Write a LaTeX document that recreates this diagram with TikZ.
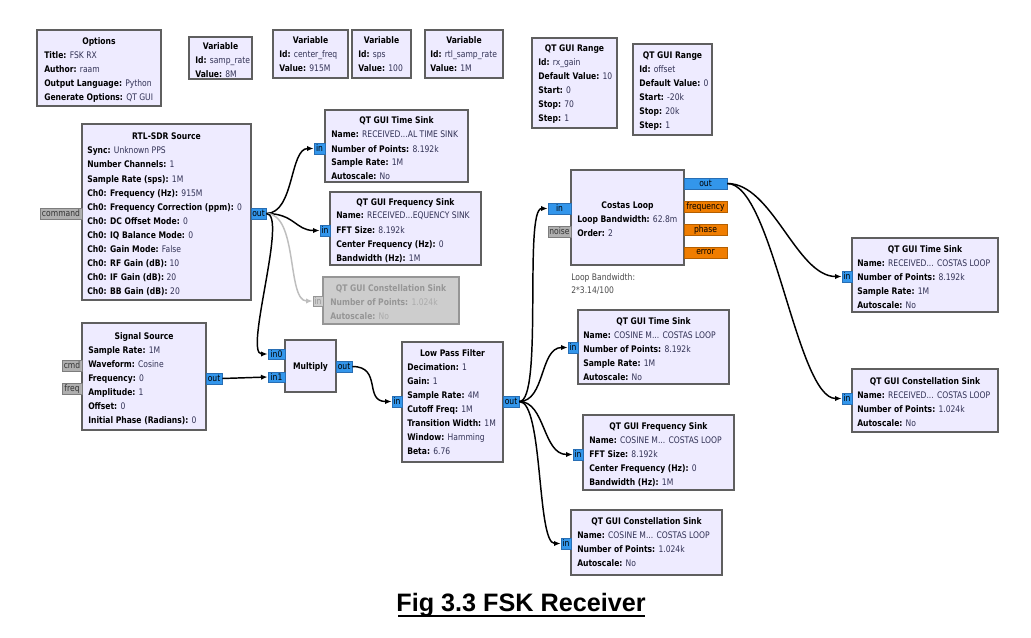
\documentclass[tikz,border=0pt]{standalone}
\usepackage{fontspec}
\setmainfont{DejaVu Sans}[FakeStretch=0.84]
\newfontfamily\capfont{Liberation Sans}
\usetikzlibrary{arrows.meta}
\definecolor{blkfill}{RGB}{238,235,255}
\definecolor{blkborder}{RGB}{95,95,95}
\definecolor{valc}{RGB}{50,50,85}
\definecolor{portblue}{RGB}{51,150,235}
\definecolor{portblueb}{RGB}{40,110,180}
\definecolor{portorange}{RGB}{240,125,0}
\definecolor{portorangeb}{RGB}{180,95,0}
\definecolor{portgray}{RGB}{175,175,175}
\definecolor{portgrayb}{RGB}{125,125,125}
\definecolor{disfill}{RGB}{205,205,205}
\definecolor{disborder}{RGB}{150,150,150}
\definecolor{distext}{RGB}{150,150,150}
\definecolor{dislink}{RGB}{190,190,190}
\newcommand\bfont{\fontsize{6.8pt}{8pt}\selectfont}
\newcommand\eli{...}
\tikzset{
  blockbox/.style={draw=blkborder, fill=blkfill, line width=0.9pt, inner sep=0pt},
  disbox/.style={draw=disborder, fill=disfill, line width=0.9pt, inner sep=0pt},
  portbase/.style={inner sep=0pt, font=\bfont, line width=0.5pt},
  pblue/.style={portbase, fill=portblue, draw=portblueb, text=black},
  porange/.style={portbase, fill=portorange, draw=portorangeb, text=black},
  pgray/.style={portbase, fill=portgray, draw=portgrayb, text=black!80},
  pdis/.style={portbase, fill=disfill, draw=disborder, text=distext},
  ttl/.style={font=\bfont\bfseries, anchor=base, inner sep=0pt},
  conn/.style={line width=1.1pt, -{Latex[length=5pt,width=4pt]}},
  disconn/.style={conn, draw=dislink, color=dislink},
}
\newcommand\blk[6][blockbox]{\node[#1, minimum width={(#5-#3)*0.75pt}, minimum height={(#6-#4)*0.75pt}] (#2) at ({(#3+#5)/2},{(#4+#6)/2}) {};}
\newcommand\prt[7]{\node[#1, minimum width={(#5-#3)*0.75pt}, minimum height={(#6-#4)*0.75pt}] (#2) at ({(#3+#5)/2},{(#4+#6)/2}) {#7};}
\newcommand\lns[4]{\foreach \k/\v [count=\i] in {#4} {\node[anchor=base west, inner sep=0pt, font=\bfont] (#1-\i) at (#2, {#3+(\i-1)*14}) {\textbf{\k:} \textcolor{valc}{\v}};}}
\begin{document}
\begin{tikzpicture}[x=0.75pt, y=-0.75pt]
\useasboundingbox[fill=white] (0,0) rectangle (1031,638);

% Options and variables
\blk{opt}{37}{30}{161}{106}
\node[ttl] (opt-t) at (99,45) {Options};
\lns{opt}{44}{59}{Title/FSK RX, Author/raam, Output Language/Python, Generate Options/QT GUI}

\blk{vsr}{189}{37}{252}{79}
\node[ttl] (vsr-t) at (220.5,50) {Variable};
\lns{vsr}{195}{64}{Id/samp\_rate, Value/8M}

\blk{vcf}{273}{30}{348}{78}
\node[ttl] (vcf-t) at (310.5,44) {Variable};
\lns{vcf}{279}{58}{Id/center\_freq, Value/915M}

\blk{vsps}{352}{30}{411}{78}
\node[ttl] (vsps-t) at (381.5,44) {Variable};
\lns{vsps}{358}{58}{Id/sps, Value/100}

\blk{vrtl}{425}{30}{503}{78}
\node[ttl] (vrtl-t) at (464,44) {Variable};
\lns{vrtl}{430}{58}{Id/rtl\_samp\_rate, Value/1M}

\blk{rg1}{532}{38}{617}{128}
\node[ttl] (rg1-t) at (574.5,52) {QT GUI Range};
\lns{rg1}{538}{66}{Id/rx\_gain, Default Value/10, Start/0, Stop/70, Step/1}

\blk{rg2}{633}{44}{712}{135}
\node[ttl] (rg2-t) at (672.5,59) {QT GUI Range};
\lns{rg2}{639}{73}{Id/offset, Default Value/0, Start/-20k, Stop/20k, Step/1}

% RTL-SDR source
\blk{rtl}{82}{124}{251}{300}
\node[ttl] (rtl-t) at (166.5,140) {RTL-SDR Source};
\lns{rtl}{87}{154}{Sync/Unknown PPS, Number Channels/1, Sample Rate (sps)/1M, Ch0: Frequency (Hz)/915M, Ch0: Frequency Correction (ppm)/0, Ch0: DC Offset Mode/0, Ch0: IQ Balance Mode/0, Ch0: Gain Mode/False, Ch0: RF Gain (dB)/10, Ch0: IF Gain (dB)/20, Ch0: BB Gain (dB)/20}
\prt{pgray}{rtlcmd}{40}{208}{82}{219}{command}
\prt{pblue}{rtlout}{251}{208}{266}{219}{out}

% top sinks
\blk{ts1}{325}{110}{468}{182}
\node[ttl] (ts1-t) at (396.5,124) {QT GUI Time Sink};
\lns{ts1}{331}{138}{Name/RECEIVED\eli AL TIME SINK, Number of Points/8.192k, Sample Rate/1M, Autoscale/No}
\prt{pblue}{ts1in}{314}{143}{325}{154}{in}

\blk{fs1}{330}{192}{481}{265}
\node[ttl] (fs1-t) at (405.5,205) {QT GUI Frequency Sink};
\lns{fs1}{336}{219}{Name/RECEIVED\eli EQUENCY SINK, FFT Size/8.192k, Center Frequency (Hz)/0, Bandwidth (Hz)/1M}
\prt{pblue}{fs1in}{320}{225}{330}{236}{in}

\blk[disbox]{cs1}{323}{277}{459}{324}
\node[ttl, text=distext] (cs1-t) at (391,291) {QT GUI Constellation Sink};
\node[anchor=base west, inner sep=0pt, font=\bfont] (cs1-1) at (330,305) {\textcolor{distext}{\textbf{Number of Points:}} \textcolor{distext!80}{1.024k}};
\node[anchor=base west, inner sep=0pt, font=\bfont] (cs1-2) at (330,319) {\textcolor{distext}{\textbf{Autoscale:}} \textcolor{distext!80}{No}};
\prt{pdis}{cs1in}{313}{296}{323}{306}{in}

% Signal source
\blk{sig}{82}{323}{206}{430}
\node[ttl] (sig-t) at (144,339) {Signal Source};
\lns{sig}{88}{353}{Sample Rate/1M, Waveform/Cosine, Frequency/0, Amplitude/1, Offset/0, Initial Phase (Radians)/0}
\prt{pgray}{sigcmd}{62}{360}{82}{371}{cmd}
\prt{pgray}{sigfreq}{62}{383}{82}{394}{freq}
\prt{pblue}{sigout}{206}{373}{222}{384}{out}

% Multiply
\blk{mul}{285}{340}{336}{392}
\node[ttl] (mul-t) at (310.5,369) {Multiply};
\prt{pblue}{mulin0}{268}{349}{285}{359}{in0}
\prt{pblue}{mulin1}{268}{372}{285}{382}{in1}
\prt{pblue}{mulout}{336}{361}{352}{372}{out}

% Low pass filter
\blk{lpf}{402}{342}{503}{462}
\node[ttl] (lpf-t) at (452.5,356) {Low Pass Filter};
\lns{lpf}{407}{370}{Decimation/1, Gain/1, Sample Rate/4M, Cutoff Freq/1M, Transition Width/1M, Window/Hamming, Beta/6.76}
\prt{pblue}{lpfin}{392}{396}{402}{407}{in}
\prt{pblue}{lpfout}{503}{396}{519}{407}{out}

% Costas loop
\blk{cl}{571}{170}{684}{265}
\node[ttl] (cl-t) at (627.5,208) {Costas Loop};
\lns{cl}{577}{222}{Loop Bandwidth/62.8m, Order/2}
\prt{pblue}{clin}{548}{203}{571}{214}{in}
\prt{pgray}{clnoise}{548}{226}{571}{237}{noise}
\prt{pblue}{clout}{684}{178}{727}{189}{out}
\prt{porange}{clfreq}{684}{201}{727}{212}{frequency}
\prt{porange}{clphase}{684}{224}{727}{235}{phase}
\prt{porange}{clerr}{684}{247}{727}{258}{error}
\node[anchor=base west, inner sep=0pt, font=\bfont, text=black!70] (clc1) at (571,280) {Loop Bandwidth:};
\node[anchor=base west, inner sep=0pt, font=\bfont, text=black!70] (clc2) at (571,293) {2*3.14/100};

% middle sinks
\blk{ts2}{578}{310}{729}{384}
\node[ttl] (ts2-t) at (653.5,324) {QT GUI Time Sink};
\lns{ts2}{583}{338}{Name/COSINE M\eli{} COSTAS LOOP, Number of Points/8.192k, Sample Rate/1M, Autoscale/No}
\prt{pblue}{ts2in}{568}{342}{578}{353}{in}

\blk{fs2}{583}{415}{734}{490}
\node[ttl] (fs2-t) at (658.5,429) {QT GUI Frequency Sink};
\lns{fs2}{589}{443}{Name/COSINE M\eli{} COSTAS LOOP, FFT Size/8.192k, Center Frequency (Hz)/0, Bandwidth (Hz)/1M}
\prt{pblue}{fs2in}{573}{449}{583}{460}{in}

\blk{cs2}{571}{510}{722}{575}
\node[ttl] (cs2-t) at (646.5,524) {QT GUI Constellation Sink};
\lns{cs2}{577}{538}{Name/COSINE M\eli{} COSTAS LOOP, Number of Points/1.024k, Autoscale/No}
\prt{pblue}{cs2in}{561}{538}{571}{549}{in}

% right sinks
\blk{ts3}{852}{238}{998}{312}
\node[ttl] (ts3-t) at (925,252) {QT GUI Time Sink};
\lns{ts3}{857}{266}{Name/RECEIVED\eli{} COSTAS LOOP, Number of Points/8.192k, Sample Rate/1M, Autoscale/No}
\prt{pblue}{ts3in}{842}{271}{852}{282}{in}

\blk{cs3}{852}{369}{998}{432}
\node[ttl] (cs3-t) at (925,384) {QT GUI Constellation Sink};
\lns{cs3}{857}{398}{Name/RECEIVED\eli{} COSTAS LOOP, Number of Points/1.024k, Autoscale/No}
\prt{pblue}{cs3in}{842}{393}{852}{404}{in}

% connections
\draw[conn] (rtlout.east) .. controls +(28,0) and +(-24,0) .. (ts1in.west);
\draw[conn] (rtlout.east) .. controls +(28,0) and +(-24,0) .. (fs1in.west);
\draw[disconn] (rtlout.east) .. controls +(32,0) and +(-26,0) .. (cs1in.west);
\draw[conn] (rtlout.east) .. controls +(22,0) and +(-24,0) .. (mulin0.west);
\draw[conn] (sigout.east) -- (mulin1.west);
\draw[conn] (mulout.east) .. controls +(30,0) and +(-28,0) .. (lpfin.west);
\draw[conn] (lpfout.east) .. controls +(24,0) and +(-24,0) .. (clin.west);
\draw[conn] (lpfout.east) .. controls +(26,0) and +(-28,0) .. (ts2in.west);
\draw[conn] (lpfout.east) .. controls +(26,0) and +(-30,0) .. (fs2in.west);
\draw[conn] (lpfout.east) .. controls +(24,0) and +(-24,0) .. (cs2in.west);
\draw[conn] (clout.east) .. controls +(45,0) and +(-45,0) .. (ts3in.west);
\draw[conn] (clout.east) .. controls +(45,0) and +(-45,0) .. (cs3in.west);

% caption
\node[anchor=base, inner sep=0pt, font=\capfont\fontsize{18.9pt}{22pt}\selectfont\bfseries] (cap) at (521,611) {Fig 3.3 FSK Receiver};
\draw[line width=1.6pt] (398,616) -- (645,616);
\end{tikzpicture}
\end{document}
